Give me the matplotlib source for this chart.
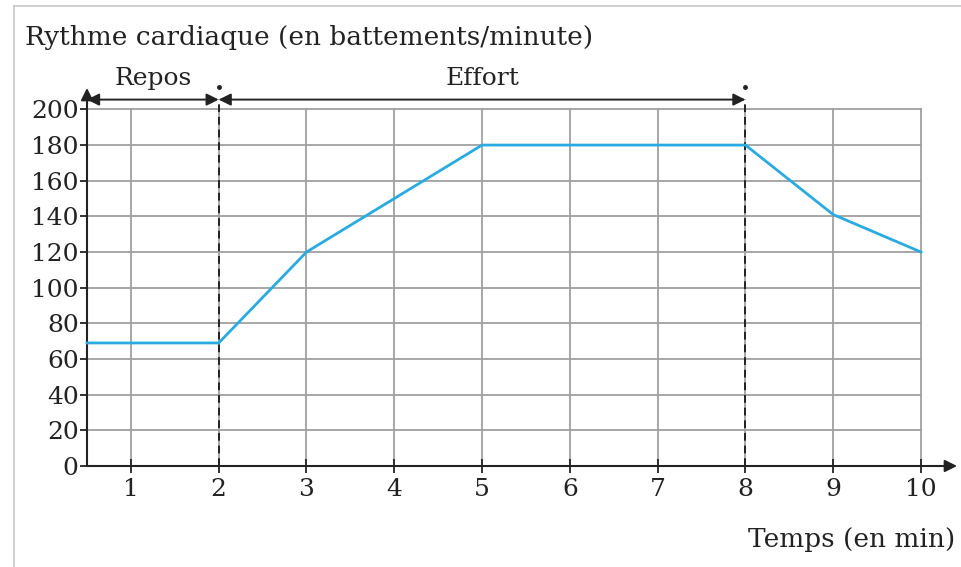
import matplotlib.pyplot as plt
import numpy as np
from matplotlib.lines import Line2D

plt.rcParams['font.family'] = ['DejaVu Serif']

temps = [0.5, 2, 3, 4, 5, 8, 9, 10]
rythme = [69, 69, 120, 150, 180, 180, 141, 120]
xticks = [1, 2, 3, 4, 5, 6, 7, 8, 9, 10]
yticks = list(range(0, 201, 20))
phases = [('Repos', 0.5, 2), ('Effort', 2, 8)]

fig = plt.figure(figsize=(9.61, 5.67), dpi=100)
ax = fig.add_axes([87/961, 1-466/567, (957-87)/961, (466-88)/567])
ax.set_xlim(0.5, 10.41)
ax.set_ylim(0, 212)
for s in ax.spines.values():
    s.set_visible(False)

# frame around the picture
fig.add_artist(Line2D([14/961, 14/961], [0, 1-6/567], color='#c8c8c8', lw=1.2))
fig.add_artist(Line2D([14/961, 1], [1-6/567, 1-6/567], color='#c8c8c8', lw=1.2))

# grid
for x in xticks:
    ax.plot([x, x], [0, 200], color='#a0a0a0', lw=1.3, zorder=1)
for y in yticks[1:]:
    ax.plot([0.5, 10], [y, y], color='#a0a0a0', lw=1.3, zorder=1)

# axes with arrows
ax.annotate('', xy=(10.41, 0), xytext=(0.5, 0),
            arrowprops=dict(arrowstyle='-|>', color='#222222', lw=1.5,
                            mutation_scale=18, shrinkA=0, shrinkB=0), zorder=3)
ax.annotate('', xy=(0.5, 212), xytext=(0.5, 0),
            arrowprops=dict(arrowstyle='-|>', color='#222222', lw=1.5,
                            mutation_scale=18, shrinkA=0, shrinkB=0), zorder=3)

ax.set_xticks(xticks)
ax.set_yticks(yticks)
ax.tick_params(axis='x', direction='inout', length=10, width=1.3, color='#222222',
               labelsize=18, pad=4)
ax.tick_params(axis='y', direction='out', length=5, width=1.3, color='#222222',
               labelsize=18, pad=1)
for lab in ax.get_xticklabels() + ax.get_yticklabels():
    lab.set_color('#222222')

# dashed phase boundaries
for x in [2, 8]:
    ax.plot([x, x], [0, 206], color='#222222', lw=1.4, ls=(0, (4, 2.5)), zorder=3, clip_on=False)
    ax.plot([x], [212.5], marker='o', ms=2.5, color='#222222', clip_on=False)

# phase arrows
for name, x0, x1 in phases:
    ax.annotate('', xy=(x1, 205.5), xytext=(x0, 205.5), annotation_clip=False,
                arrowprops=dict(arrowstyle='<|-|>', color='#222222', lw=1.4,
                                mutation_scale=18, shrinkA=0, shrinkB=0))
    ax.text((x0 + x1) / 2, 211, name, ha='center', va='bottom', fontsize=18,
            color='#222222', clip_on=False)

ax.plot(temps, rythme, color='#29abe2', lw=2, zorder=4, clip_on=False)

fig.text(25/961, 1-38/567, 'Rythme cardiaque (en battements/minute)', fontsize=19,
         ha='left', va='center', color='#222222')
fig.text(955/961, 1-540/567, 'Temps (en min)', fontsize=19, ha='right', va='center',
         color='#222222')

fig.savefig('out.png', dpi=100)
